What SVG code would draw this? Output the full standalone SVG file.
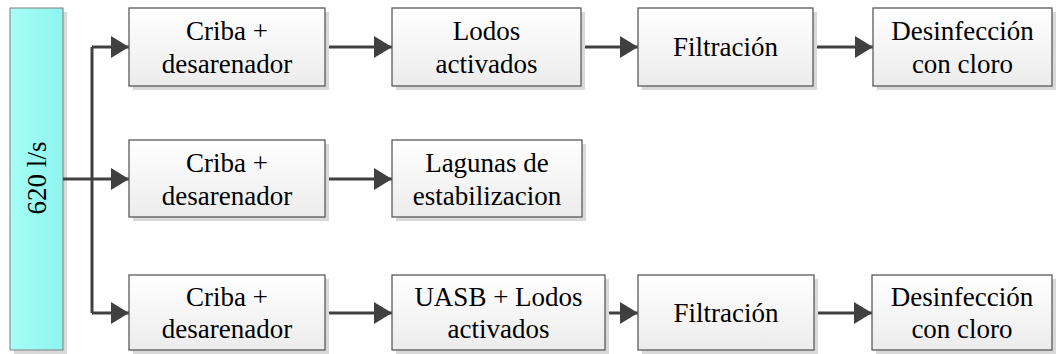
<svg xmlns="http://www.w3.org/2000/svg" width="1058" height="354" viewBox="0 0 1058 354">
<defs>
<linearGradient id="gBox" x1="0" y1="0" x2="0" y2="1">
<stop offset="0" stop-color="#ffffff"/>
<stop offset="1" stop-color="#ececec"/>
</linearGradient>
<linearGradient id="gBar" x1="0" y1="0" x2="1" y2="0">
<stop offset="0" stop-color="#a6fdf7"/>
<stop offset="1" stop-color="#8ef4ee"/>
</linearGradient>
<marker id="arr" markerUnits="userSpaceOnUse" markerWidth="20" markerHeight="22" refX="18" refY="11" orient="auto">
<path d="M0,0 L18,11 L0,22 Z" fill="#404040"/>
</marker>
</defs>
<style>
.sh{fill:#d9d9d9;}
.box{fill:url(#gBox);stroke:#5a5a5a;stroke-width:1.3;}
.t{font-family:"Liberation Serif","Times New Roman",serif;font-size:27px;fill:#000;text-anchor:middle;}
.c{fill:none;stroke:#404040;stroke-width:3;}
</style>
<g id="bar">
<rect class="sh" x="14" y="12" width="53" height="342"/>
<rect x="10" y="8" width="53" height="342" fill="url(#gBar)" stroke="#7f7f7f" stroke-width="1"/>
<text class="t" transform="translate(46,178) rotate(-90)">620 l/s</text>
</g>
<g id="connectors">
<path class="c" d="M63,179 H92"/>
<path class="c" d="M92,47 V313"/>
<path class="c" d="M92,47 H129" marker-end="url(#arr)"/>
<path class="c" d="M92,179 H129" marker-end="url(#arr)"/>
<path class="c" d="M92,313 H129" marker-end="url(#arr)"/>
<path class="c" d="M325,47 H392" marker-end="url(#arr)"/>
<path class="c" d="M581,47 H638" marker-end="url(#arr)"/>
<path class="c" d="M813,47 H873" marker-end="url(#arr)"/>
<path class="c" d="M325,179 H392" marker-end="url(#arr)"/>
<path class="c" d="M325,313 H392" marker-end="url(#arr)"/>
<path class="c" d="M605,313 H638" marker-end="url(#arr)"/>
<path class="c" d="M814,313 H872" marker-end="url(#arr)"/>
</g>
<g id="criba1">
<rect class="sh" x="133" y="12" width="196" height="78"/>
<rect class="box" x="129" y="8" width="196" height="78"/>
<text class="t" x="227" y="40">Criba +</text>
<text class="t" x="227" y="73">desarenador</text>
</g>
<g id="lodos1">
<rect class="sh" x="396" y="12" width="189" height="78"/>
<rect class="box" x="392" y="8" width="189" height="78"/>
<text class="t" x="486.5" y="40">Lodos</text>
<text class="t" x="486.5" y="73">activados</text>
</g>
<g id="filtracion1">
<rect class="sh" x="642" y="12" width="175" height="78"/>
<rect class="box" x="638" y="8" width="175" height="78"/>
<text class="t" x="725.5" y="56">Filtración</text>
</g>
<g id="desinfeccion1">
<rect class="sh" x="877" y="12" width="179" height="78"/>
<rect class="box" x="873" y="8" width="179" height="78"/>
<text class="t" x="962.5" y="40">Desinfección</text>
<text class="t" x="962.5" y="73">con cloro</text>
</g>
<g id="criba2">
<rect class="sh" x="133" y="144" width="196" height="77"/>
<rect class="box" x="129" y="140" width="196" height="77"/>
<text class="t" x="227" y="172">Criba +</text>
<text class="t" x="227" y="205">desarenador</text>
</g>
<g id="lagunas">
<rect class="sh" x="396" y="144" width="190" height="77"/>
<rect class="box" x="392" y="140" width="190" height="77"/>
<text class="t" x="487" y="172">Lagunas de</text>
<text class="t" x="487" y="205">estabilizacion</text>
</g>
<g id="criba3">
<rect class="sh" x="133" y="279" width="196" height="75"/>
<rect class="box" x="129" y="275" width="196" height="75"/>
<text class="t" x="227" y="306">Criba +</text>
<text class="t" x="227" y="338">desarenador</text>
</g>
<g id="uasb">
<rect class="sh" x="396" y="279" width="213" height="75"/>
<rect class="box" x="392" y="275" width="213" height="75"/>
<text class="t" x="498.5" y="306">UASB + Lodos</text>
<text class="t" x="498.5" y="338">activados</text>
</g>
<g id="filtracion3">
<rect class="sh" x="642" y="279" width="176" height="75"/>
<rect class="box" x="638" y="275" width="176" height="75"/>
<text class="t" x="726" y="322">Filtración</text>
</g>
<g id="desinfeccion3">
<rect class="sh" x="876" y="279" width="180" height="75"/>
<rect class="box" x="872" y="275" width="180" height="75"/>
<text class="t" x="962" y="306">Desinfección</text>
<text class="t" x="962" y="338">con cloro</text>
</g>
</svg>
